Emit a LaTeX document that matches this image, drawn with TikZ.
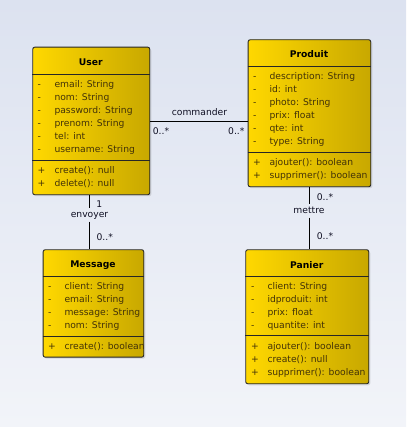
\documentclass[tikz,border=0pt]{standalone}
\usepackage{fontspec}
\setmainfont{DejaVu Sans}
\usetikzlibrary{shadows}
\definecolor{bgtop}{RGB}{220,226,240}
\definecolor{bgbot}{RGB}{242,244,249}
\definecolor{goldL}{RGB}{255,216,0}
\definecolor{goldR}{RGB}{200,168,0}
\definecolor{attrc}{RGB}{66,50,8}
\definecolor{lblc}{RGB}{15,15,35}
\tikzset{
 classbox/.style={draw=black!85, line width=0.9pt, rounded corners=2pt, left color=goldL, right color=goldR, inner sep=0pt, anchor=north west, drop shadow={opacity=0.25, shadow xshift=1.5pt, shadow yshift=-1.5pt}},
 sepline/.style={draw=black!85, line width=0.9pt},
 ctitle/.style={font=\fontsize{9.2}{11}\selectfont\bfseries, text=black, inner sep=0pt},
 attrtxt/.style={font=\fontsize{9.2}{11}\selectfont, text=attrc, anchor=west, inner sep=0pt, text height=6.9pt, text depth=1.8pt},
 vismark/.style={attrtxt},
 conn/.style={draw=black, line width=0.8pt},
 lbl/.style={font=\fontsize{9.2}{11}\selectfont, text=lblc, inner sep=0pt, text height=6.9pt, text depth=1.8pt},
}
\newcommand\classrows[6]{%
 \foreach \t [count=\i] in {#6} {
   \node[vismark] (#1m\i) at ({#3},{#5+13*(\i-1)}) {#2};
   \node[attrtxt] (#1t\i) at ({#4},{#5+13*(\i-1)}) {\t};
 }}
\begin{document}
\begin{tikzpicture}[x=1pt,y=-1pt]
\useasboundingbox (0,0) rectangle (406,427);
\shade[top color=bgtop, bottom color=bgbot] (0,0) rectangle (406,427);

% User
\node[classbox, minimum width=117pt, minimum height=147.6pt] (user) at (32.3,46.7) {};
\node[ctitle] (usert) at (90.8,62.7) {User};
\draw[sepline] (user.west |- 0,74) -- (user.east |- 0,74);
\draw[sepline] (user.west |- 0,160.3) -- (user.east |- 0,160.3);
\classrows{ua}{-}{37.5}{54.3}{85}{email: String, nom: String, password: String, prenom: String, tel: int, username: String}
\classrows{uo}{+}{37.5}{54.3}{171}{create(): null, delete(): null}

% Produit
\node[classbox, minimum width=122.6pt, minimum height=147pt] (produit) at (247.7,39.3) {};
\node[ctitle] (produitt) at (309,54.3) {Produit};
\draw[sepline] (produit.west |- 0,66) -- (produit.east |- 0,66);
\draw[sepline] (produit.west |- 0,152.3) -- (produit.east |- 0,152.3);
\classrows{pa}{-}{253}{269.3}{77}{description: String, id: int, photo: String, prix: float, qte: int, type: String}
\classrows{po}{+}{253}{269.3}{163}{ajouter(): boolean, supprimer(): boolean}

% Message
\node[classbox, minimum width=100.6pt, minimum height=107.4pt] (msg) at (42.7,249.3) {};
\node[ctitle] (msgt) at (93,264.7) {Message};
\draw[sepline] (msg.west |- 0,276.7) -- (msg.east |- 0,276.7);
\draw[sepline] (msg.west |- 0,336) -- (msg.east |- 0,336);
\classrows{ma}{-}{48}{64.3}{287.3}{client: String, email: String, message: String, nom: String}
\classrows{mo}{+}{48}{64.3}{347}{create(): boolean}

% Panier
\node[classbox, minimum width=123pt, minimum height=134pt] (panier) at (245.3,249.3) {};
\node[ctitle] (paniert) at (306.8,264.7) {Panier};
\draw[sepline] (panier.west |- 0,276.7) -- (panier.east |- 0,276.7);
\draw[sepline] (panier.west |- 0,335.7) -- (panier.east |- 0,335.7);
\classrows{ka}{-}{251}{267.3}{287.3}{client: String, idproduit: int, prix: float, quantite: int}
\classrows{ko}{+}{251}{267.3}{347}{ajouter(): boolean, create(): null, supprimer(): boolean}

% commander
\draw[conn] (user.east) -- (user.east -| produit.west);
\node[lbl] (cmd) at (199.5,113.3) {commander};
\node[lbl] (c1) at (161,131.5) {0..*};
\node[lbl] (c2) at (236.3,131.5) {0..*};

% envoyer
\node[lbl, inner ysep=2pt] (env) at (89.5,215) {envoyer};
\draw[conn] (user.south -| env) -- (env.north);
\draw[conn] (env.south) -- (env.south |- msg.north);
\node[lbl] (e1) at (99.3,205) {1};
\node[lbl] (e2) at (104.7,237.7) {0..*};

% mettre
\node[lbl, inner ysep=2pt] (met) at (309,211) {mettre};
\draw[conn] (produit.south -| met) -- (met.north);
\draw[conn] (met.south) -- (met.south |- panier.north);
\node[lbl] (t1) at (325,198.3) {0..*};
\node[lbl] (t2) at (325,237.3) {0..*};
\end{tikzpicture}
\end{document}
